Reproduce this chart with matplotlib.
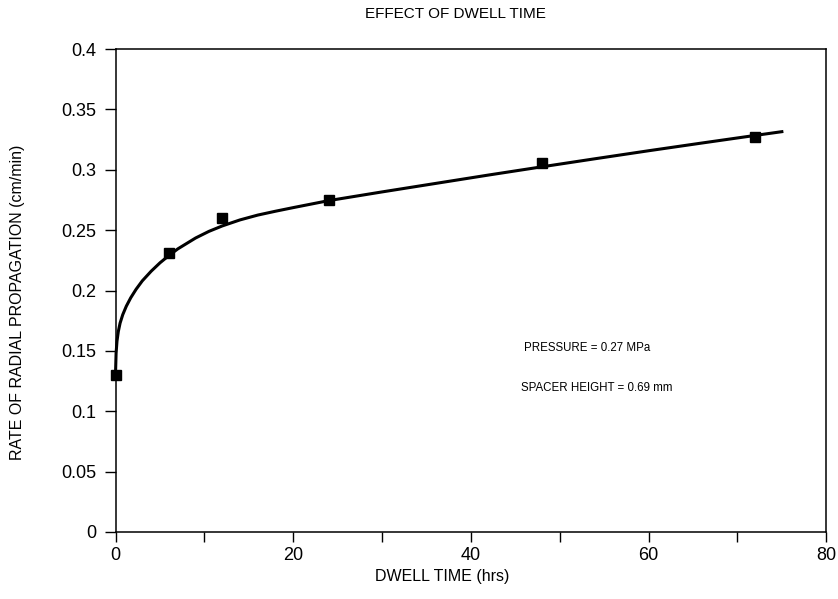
import matplotlib
matplotlib.use('Agg')
import matplotlib.pyplot as plt
from matplotlib.ticker import MultipleLocator

plt.rcParams['font.family'] = ['Liberation Sans', 'DejaVu Sans']

# measured points
dwell_hrs = [0, 6, 12, 24, 48, 72]
rate = [0.130, 0.231, 0.260, 0.275, 0.306, 0.327]

# fitted curve
curve_x = [0, 0.05, 0.15, 0.3, 0.5, 0.8, 1.2, 1.7, 2.3, 3, 4, 5, 6, 7, 8, 9, 10.5, 12,
           14, 16, 18, 20, 22, 24, 30, 36, 42, 48, 54, 60, 66, 72, 75]
curve_y = [0.135, 0.148, 0.158, 0.166, 0.173, 0.180, 0.187, 0.194, 0.201, 0.208, 0.216,
           0.223, 0.229, 0.2345, 0.239, 0.2435, 0.249, 0.2535, 0.2585, 0.2625, 0.2657,
           0.2687, 0.2716, 0.2745, 0.2817, 0.2887, 0.2957, 0.3025, 0.3092, 0.3158,
           0.3222, 0.3285, 0.3316]

y_ticks = [0, 0.05, 0.1, 0.15, 0.2, 0.25, 0.3, 0.35, 0.4]
y_labels = ['0', '0.05', '0.1', '0.15', '0.2', '0.25', '0.3', '0.35', '0.4']

fig = plt.figure(figsize=(8.38, 5.99), dpi=100)
ax = fig.add_axes([0.138, 0.112, 0.848, 0.806])

ax.plot(curve_x, curve_y, color='black', lw=2.2, solid_joinstyle='round', clip_on=False)
ax.plot(dwell_hrs, rate, 's', color='black', ms=6.5, zorder=3, clip_on=False)

ax.set_xlim(0, 80)
ax.set_ylim(0, 0.4)
ax.xaxis.set_major_locator(MultipleLocator(20))
ax.xaxis.set_minor_locator(MultipleLocator(10))
ax.set_yticks(y_ticks)
ax.set_yticklabels(y_labels)
ax.tick_params(axis='both', which='both', direction='out', top=False, right=False,
               labelsize=13, width=1, color='black')
ax.tick_params(axis='x', which='both', length=7, pad=4)
ax.tick_params(axis='y', length=8, pad=6)
for s in ax.spines.values():
    s.set_linewidth(1.1)

ax.set_xlabel('DWELL TIME (hrs)', fontsize=11.5)
ax.xaxis.set_label_coords(0.46, -0.093)
ax.xaxis.label.set_va('center')
ax.set_ylabel('RATE OF RADIAL PROPAGATION (cm/min)', fontsize=11.5)
ax.yaxis.set_label_coords(-0.138, 0.476)
ax.yaxis.label.set_va('center')
fig.text(0.544, 0.977, 'EFFECT OF DWELL TIME', ha='center', va='center', fontsize=11)

ax.text(46, 0.152, 'PRESSURE = 0.27 MPa', fontsize=8.3, va='center')
ax.text(45.6, 0.119, 'SPACER HEIGHT = 0.69 mm', fontsize=8.3, va='center')

fig.savefig('out.png', dpi=100)
